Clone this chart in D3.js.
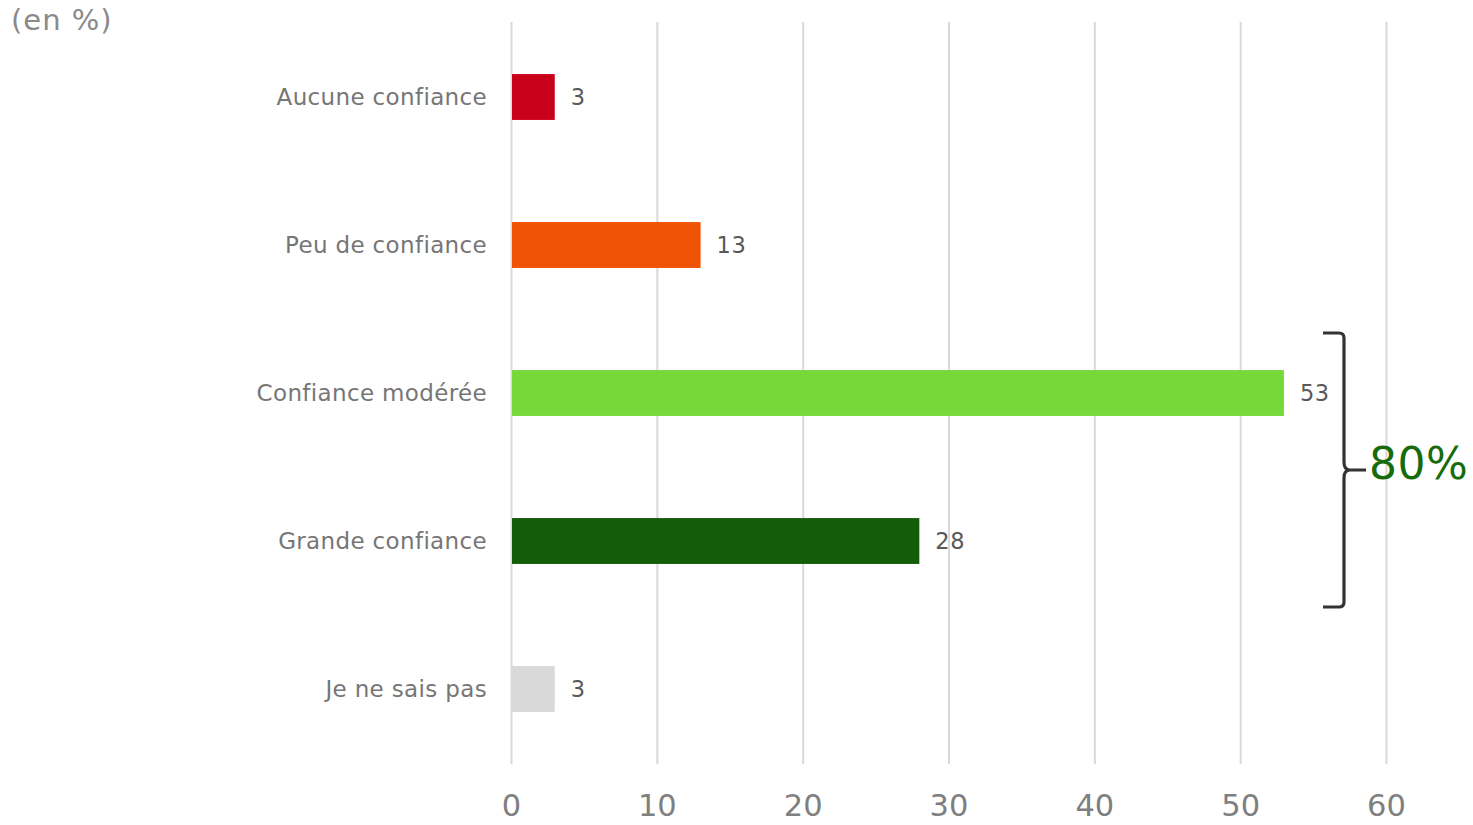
<!DOCTYPE html>
<html><head><meta charset="utf-8">
<script src="https://cdn.jsdelivr.net/npm/d3@7"></script>
<style>body{margin:0;background:#fff;} svg{display:block;font-family:"DejaVu Sans",Verdana,sans-serif;}</style>
</head><body>
<svg id="c" width="1473" height="825"></svg>
<script>
const categories = ["Aucune confiance","Peu de confiance","Confiance modérée","Grande confiance","Je ne sais pas"];
const values = [3,13,53,28,3];
const colors = ["#C8001A","#F05206","#77D83A","#145C09","#D9D9D9"];
const ticks = [0,10,20,30,40,50,60];
const unitLabel = "(en %)";
const bracketLabel = "80%";

const svg = d3.select("#c");
const x = d3.scaleLinear().domain([0,60]).range([511,1386]);
const y = d3.scaleBand().domain(categories).range([23,763]).paddingInner(0.69).paddingOuter(0.345);

// grid
svg.append("g").selectAll("line").data(ticks).join("line")
  .attr("x1",d=>x(d)+0.5).attr("x2",d=>x(d)+0.5).attr("y1",22).attr("y2",764)
  .attr("stroke","#d9d9d9").attr("stroke-width",2);

// axis labels
const ax = d3.axisBottom(x).tickValues(ticks).tickSize(0).tickPadding(0);
const g = svg.append("g").attr("transform","translate(0,790)").call(ax);
g.select(".domain").remove();
g.selectAll("text").attr("font-size",30.5).attr("fill","#7f7f7f").attr("font-family","DejaVu Sans, Verdana, sans-serif").attr("dy","0.85em").attr("y",0);

// bars
svg.append("g").selectAll("rect").data(categories).join("rect")
  .attr("x",x(0)+1).attr("y",d=>y(d)).attr("height",y.bandwidth())
  .attr("width",(d,i)=>x(values[i])-x(0)-1).attr("fill",(d,i)=>colors[i]);

// category labels
svg.append("g").selectAll("text").data(categories).join("text")
  .attr("x",487).attr("y",d=>y(d)+y.bandwidth()/2).attr("dy","0.36em")
  .attr("text-anchor","end").attr("font-size",23).attr("letter-spacing","0.35px").attr("fill","#767676").text(d=>d);

// value labels
svg.append("g").selectAll("text").data(categories).join("text")
  .attr("x",(d,i)=>x(values[i])+16).attr("y",d=>y(d)+y.bandwidth()/2).attr("dy","0.36em")
  .attr("font-size",22.5).attr("letter-spacing","0.5px").attr("fill","#595959").text((d,i)=>values[i]);

// unit label
svg.append("text").attr("x",11).attr("y",30).attr("font-size",29).attr("letter-spacing","1px").attr("fill","#8a8a8a").text(unitLabel);

// bracket
const yt = 333, yb = 607, ym = (yt+yb)/2 + 0, xl = 1323, xv = 1344, xt = 1366;
const path = `M${xl},${yt} L${xv-5},${yt} Q${xv},${yt} ${xv},${yt+5} L${xv},${ym-8} Q${xv},${ym} ${xv+6},${ym} L${xt},${ym} M${xv+6},${ym} Q${xv},${ym} ${xv},${ym+8} L${xv},${yb-5} Q${xv},${yb} ${xv-5},${yb} L${xl},${yb}`;
svg.append("path").attr("d",path).attr("fill","none").attr("stroke","#333").attr("stroke-width",3.2);
svg.append("text").attr("x",1369).attr("y",ym+9).attr("font-size",44).attr("letter-spacing","0.5px").attr("fill","#176B0A").text(bracketLabel);
</script>
</body></html>
